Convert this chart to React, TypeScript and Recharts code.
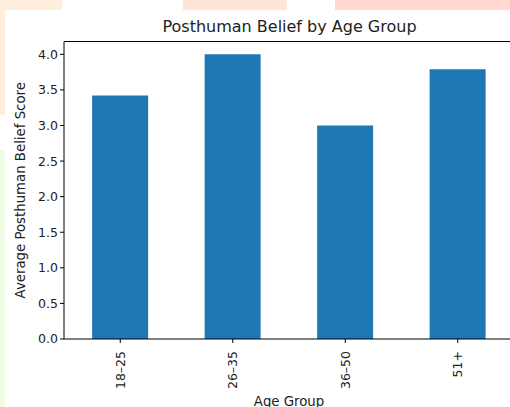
import { BarChart, Bar, XAxis, YAxis, ReferenceLine, Label } from 'recharts'

const ageGroups = ['18–25', '26–35', '36–50', '51+']
const beliefScores = [3.42, 4.0, 3.0, 3.79]
const yTicks = [0, 0.5, 1.0, 1.5, 2.0, 2.5, 3.0, 3.5, 4.0]

const data = ageGroups.map((group, i) => ({ group, score: beliefScores[i] }))

const FONT = '"DejaVu Sans", sans-serif'

// rotated x tick label, reads bottom to top
function AgeTick(props: any) {
  const { x, y, payload } = props
  return (
    <text
      x={x}
      y={y}
      transform={`rotate(-90, ${x}, ${y})`}
      textAnchor="end"
      dominantBaseline="central"
      fontSize={12.5}
      fontFamily={FONT}
      fill="#222"
      dx={-6}
    >
      {payload.value}
    </text>
  )
}

export default function App() {
  return (
    <div style={{ position: 'absolute', left: 0, top: 0, width: 510, height: 407, overflow: 'hidden', background: '#fff' }}>
      {/* faint page background peeking round the figure */}
      <div style={{ position: 'absolute', left: 0, top: 0, width: 62, height: 10, background: '#FFEEDC' }} />
      <div style={{ position: 'absolute', left: 183, top: 0, width: 104, height: 10, background: '#FFE5D5' }} />
      <div style={{ position: 'absolute', left: 335, top: 0, width: 175, height: 10, background: '#FFD9D2' }} />
      <div style={{ position: 'absolute', left: 0, top: 0, width: 5, height: 115, background: '#FFEEDC' }} />
      <div style={{ position: 'absolute', left: 0, top: 150, width: 5, height: 257, background: '#F0FBE5' }} />

      <div
        style={{
          position: 'absolute',
          left: 0,
          top: 17,
          width: 579,
          textAlign: 'center',
          fontFamily: FONT,
          fontSize: 16,
          color: '#222',
          lineHeight: '20px',
        }}
      >
        Posthuman Belief by Age Group
      </div>

      <div style={{ position: 'absolute', left: 0, top: 0 }}>
        <BarChart
          width={520}
          height={407}
          data={data}
          margin={{ top: 41.5, right: 6, bottom: 0, left: 0 }}
          barCategoryGap="25%"
        >
          <XAxis
            dataKey="group"
            height={68}
            tick={<AgeTick />}
            tickSize={4}
            axisLine={{ stroke: '#000', strokeWidth: 1 }}
            tickLine={{ stroke: '#000' }}
            interval={0}
          >
            <Label
              value="Age Group"
              position="insideBottom"
              offset={1}
              style={{ fontFamily: FONT, fontSize: 13.3, fill: '#222' }}
            />
          </XAxis>
          <YAxis
            width={64}
            domain={[0, 4.18]}
            ticks={yTicks}
            tickFormatter={(v: number) => v.toFixed(1)}
            tickSize={4}
            tick={{ fontFamily: FONT, fontSize: 12.5, fill: '#222' }}
            axisLine={{ stroke: '#000', strokeWidth: 1 }}
            tickLine={{ stroke: '#000' }}
            allowDataOverflow
          >
            <Label
              value="Average Posthuman Belief Score"
              angle={-90}
              position="center"
              dx={-12}
              style={{ fontFamily: FONT, fontSize: 13.3, fill: '#222', textAnchor: 'middle' }}
            />
          </YAxis>
          <ReferenceLine y={4.18} stroke="#000" strokeWidth={1} />
          <Bar dataKey="score" fill="#1f77b4" isAnimationActive={false} />
        </BarChart>
      </div>
    </div>
  )
}
